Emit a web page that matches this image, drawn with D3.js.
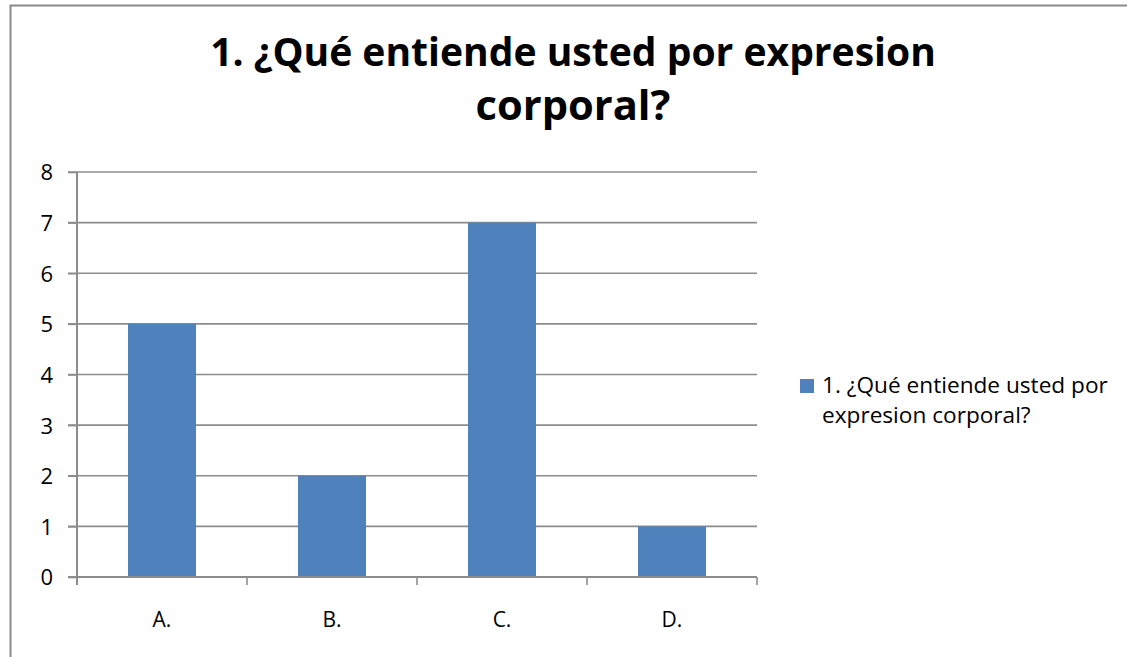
<!DOCTYPE html>
<html><head><meta charset="utf-8">
<script src="https://cdn.jsdelivr.net/npm/d3@7"></script>
<style>body{margin:0;background:#fff}svg{display:block}</style>
</head><body>
<script>
const categories = ["A.", "B.", "C.", "D."];
const values = [5, 2, 7, 1];
const yTicks = [0, 1, 2, 3, 4, 5, 6, 7, 8];
const titleLines = ["1. ¿Qué entiende usted por expresion", "corporal?"];
const legendLines = ["1. ¿Qué entiende usted por", "expresion corporal?"];

const W = 1127, H = 657;
const svg = d3.select("body").append("svg").attr("width", W).attr("height", H);
svg.append("rect").attr("width", W).attr("height", H).attr("fill", "#fff");
// outer chart border
svg.append("rect").attr("x", 10.5).attr("y", 5.5).attr("width", 1300).attr("height", 1000)
  .attr("fill", "none").attr("stroke", "#8a8a8a").attr("stroke-width", 2);

const font = "'Open Sans', 'Noto Sans', sans-serif";
const plot = {l: 77, r: 757, t: 172, b: 577};

const x = d3.scaleBand().domain(categories).range([plot.l, plot.r]).paddingInner(0.6).paddingOuter(0.3);
const xb = d3.scaleBand().domain(categories).range([plot.l, plot.r]);
const y = d3.scaleLinear().domain([0, 8]).range([plot.b, plot.t]);

const gridColor = "#8c8c8c";
// gridlines
svg.append("g").selectAll("line").data(yTicks.filter(d => d > 0)).join("line")
  .attr("x1", plot.l - 9).attr("x2", plot.r)
  .attr("y1", d => y(d)).attr("y2", d => y(d))
  .attr("stroke", gridColor).attr("stroke-width", 1.6);

// bars
svg.append("g").selectAll("rect").data(categories).join("rect")
  .attr("x", d => x(d)).attr("width", x.bandwidth())
  .attr("y", (d, i) => y(values[i])).attr("height", (d, i) => y(0) - y(values[i]))
  .attr("fill", "#4f81bd");

// y axis
const yAxis = svg.append("g").attr("transform", `translate(${plot.l},0)`)
  .call(d3.axisLeft(y).tickValues(yTicks).tickSize(9).tickPadding(15).tickFormat(d3.format("d")));
yAxis.select(".domain").attr("stroke", gridColor).attr("stroke-width", 2).attr("d", `M0,${plot.t}V${plot.b + 8}`);
yAxis.selectAll(".tick line").attr("stroke", gridColor).attr("stroke-width", 1.6);
yAxis.selectAll("text").attr("font-family", font).attr("font-size", 22).attr("fill", "#000").attr("dy", "0.36em");

// x axis
const xg = svg.append("g").attr("transform", `translate(0,${plot.b})`);
xg.append("line").attr("x1", plot.l - 9).attr("x2", plot.r).attr("y1", 0).attr("y2", 0)
  .attr("stroke", gridColor).attr("stroke-width", 2);
const bounds = categories.map(c => xb(c)).concat([plot.r]);
xg.selectAll("line.tk").data(bounds).join("line").attr("class", "tk")
  .attr("x1", d => d).attr("x2", d => d).attr("y1", 0).attr("y2", 8)
  .attr("stroke", gridColor).attr("stroke-width", 1.6);
xg.selectAll("text").data(categories).join("text")
  .attr("x", d => xb(d) + xb.bandwidth() / 2).attr("y", 50)
  .attr("text-anchor", "middle").attr("font-family", font).attr("font-size", 21).attr("fill", "#000")
  .text(d => d);

// title
const title = svg.append("g");
const tY = [66, 120];
const tW = [726, 195];
titleLines.forEach((t, i) => {
  const el = title.append("text").attr("x", 573).attr("y", tY[i]).attr("text-anchor", "middle")
    .attr("font-family", font).attr("font-weight", 700).attr("font-size", 32).attr("fill", "#000").text(t);
  const w = el.node().getComputedTextLength();
  el.attr("font-size", 32 * tW[i] / w);
});

// legend
svg.append("rect").attr("x", 800).attr("y", 379).attr("width", 14).attr("height", 14).attr("fill", "#4f81bd");
let legendSize = 20;
legendLines.forEach((t, i) => {
  const el = svg.append("text").attr("x", 822).attr("y", 393 + i * 30)
    .attr("font-family", font).attr("font-size", legendSize).attr("fill", "#000").text(t);
  if (i === 0) {
    const w = el.node().getComputedTextLength();
    legendSize = 20 * 286 / w;
    el.attr("font-size", legendSize);
  }
});
</script>
</body></html>
